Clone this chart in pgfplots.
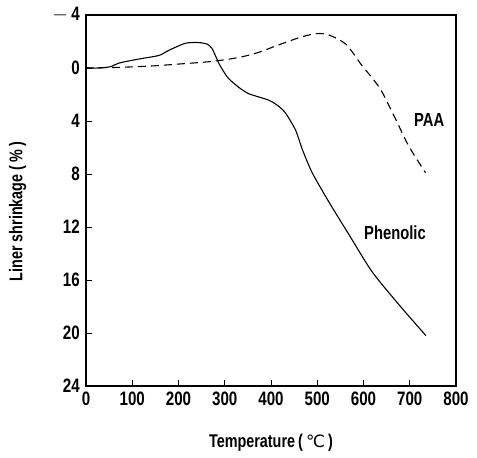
\documentclass[border=0pt]{standalone}
\usepackage{pgfplots}
\pgfplotsset{compat=1.18}
\usepackage{fontspec}
\setmainfont{Liberation Sans}[FakeStretch=0.78]
\newfontfamily\symfont{DejaVu Sans}
\begin{document}
\begin{tikzpicture}
\begin{axis}[
  scale only axis,
  width=370bp, height=371bp,
  xmin=0, xmax=800, ymin=-4, ymax=24,
  y dir=reverse,
  xtick={0,100,...,800},
  ytick={-4,0,4,...,24},
  yticklabels={$-$\,4,0,4,8,12,16,20,24},
  tick pos=left,
  tick align=inside,
  major tick length=6bp,
  tick style={black, line width=0.6pt},
  axis line style={line width=1.1pt},
  /pgf/number format/assume math mode=true,
  tick label style={font=\fontsize{19.5}{21}\selectfont\bfseries, inner sep=1bp},
  yticklabel style={xshift=-5bp},
  xticklabel style={yshift=-5bp},
  xlabel={Temperature\,(\,{\symfont\mdseries\fontsize{17}{18}\selectfont ℃}\,)},
  ylabel={Liner shrinkage\ (\,\%\,)},
  every axis x label/.style={at={(axis description cs:0.5,-0.153)}, anchor=center, font=\fontsize{18.5}{20}\selectfont\bfseries},
  every axis y label/.style={at={(axis description cs:-0.185,0.47)}, rotate=90, anchor=center, font=\fontsize{18.5}{20}\selectfont\bfseries},
]
\addplot[black, line width=1.1pt, smooth, tension=0.4] coordinates {
(0,0) (28,0) (53,-0.1) (71,-0.37) (110,-0.65) (158,-0.95) (180,-1.35)
(215,-1.87) (244,-1.92) (262,-1.8) (272,-1.5) (280,-0.92) (288,-0.3)
(300,0.4) (309,0.82) (330,1.45) (352,1.94) (396,2.44) (417,2.9)
(432,3.43) (453,4.68) (468,6.17) (489,7.9) (525,10.1) (569,12.6)
(619,15.4) (680,18.0) (735,20.2)
};
\addplot[black, line width=1.1pt, dash pattern=on 8bp off 5bp, smooth, tension=0.5] coordinates {
(0,0) (71,-0.05) (140,-0.15) (201,-0.3) (273,-0.5) (331,-0.8)
(375,-1.2) (410,-1.66) (461,-2.29) (497,-2.59) (525,-2.49) (562,-1.79)
(597,-0.17) (620,0.8) (640,1.8) (670,3.9) (698,5.9) (734,7.9)
};
\node[font=\fontsize{19}{21}\selectfont\bfseries] at (axis cs:742,3.9) {PAA};
\node[font=\fontsize{19}{21}\selectfont\bfseries] at (axis cs:668,12.4) {Phenolic};
\coordinate (LL) at (axis cs:0,24);
\end{axis}
\pgfresetboundingbox
\useasboundingbox (LL) ++(-86bp,-72bp) rectangle ++(477bp,458bp);
\end{tikzpicture}
\end{document}
